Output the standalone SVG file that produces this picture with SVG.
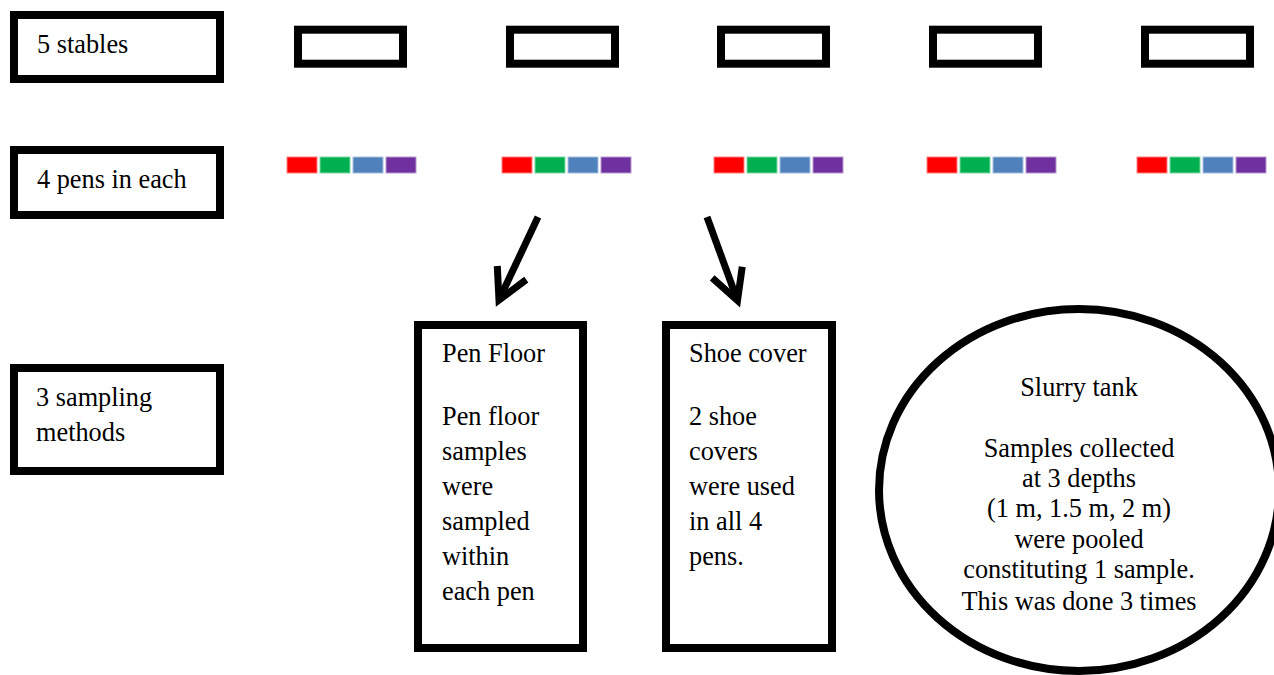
<svg xmlns="http://www.w3.org/2000/svg" width="1274" height="675" viewBox="0 0 1274 675">
<style>
text{font-family:"Liberation Serif","Times New Roman",serif;font-size:26.3px;fill:#000}
.box{fill:#fff;stroke:#000;stroke-width:8}
.st{fill:#fff;stroke:#000;stroke-width:8}
.r{fill:#FF0000;stroke:#FF8080;stroke-width:1}
.g{fill:#00B050;stroke:#80D8A8;stroke-width:1}
.b{fill:#4F81BD;stroke:#A7C0DE;stroke-width:1}
.p{fill:#7030A0;stroke:#B898D0;stroke-width:1}
.mid{text-anchor:middle}
.arrow{fill:none;stroke:#000;stroke-width:7;marker-end:url(#ah)}
</style>
<defs>
<marker id="ah" markerUnits="userSpaceOnUse" markerWidth="50" markerHeight="50" viewBox="-40 -25 50 50" refX="0" refY="0" orient="auto" overflow="visible">
<path d="M-30,-16 L0,0 L-30,16" fill="none" stroke="#000" stroke-width="7" stroke-linejoin="miter"/>
</marker>
<g id="pens">
<rect class="r" x="0" y="0" width="30" height="16"/>
<rect class="g" x="33" y="0" width="30" height="16"/>
<rect class="b" x="66" y="0" width="30" height="16"/>
<rect class="p" x="99" y="0" width="30" height="16"/>
</g>
</defs>
<rect width="1274" height="675" fill="#fff"/>

<g id="label-stables">
<rect class="box" x="14" y="15" width="206" height="64"/>
<text x="37" y="53">5 stables</text>
</g>
<g id="label-pens">
<rect class="box" x="14" y="150" width="206" height="65"/>
<text x="37" y="188">4 pens in each</text>
</g>
<g id="label-methods">
<rect class="box" x="14" y="368" width="206" height="103"/>
<text x="36" y="406">3 sampling</text>
<text x="36" y="441">methods</text>
</g>

<g id="stable1"><rect class="st" x="298" y="29.7" width="105" height="34"/></g>
<g id="stable2"><rect class="st" x="510" y="29.7" width="105" height="34"/></g>
<g id="stable3"><rect class="st" x="721" y="29.7" width="105" height="34"/></g>
<g id="stable4"><rect class="st" x="933" y="29.7" width="105" height="34"/></g>
<g id="stable5"><rect class="st" x="1145" y="29.7" width="105" height="34"/></g>

<g id="pens1"><use href="#pens" x="287" y="157"/></g>
<g id="pens2"><use href="#pens" x="502" y="157"/></g>
<g id="pens3"><use href="#pens" x="714" y="157"/></g>
<g id="pens4"><use href="#pens" x="927" y="157"/></g>
<g id="pens5"><use href="#pens" x="1137" y="157"/></g>

<g id="connectors">
<path class="arrow" d="M538,217 L499,300"/>
<path class="arrow" d="M707,217 L737.5,300.5"/>
</g>

<g id="pen-floor">
<rect class="box" x="418" y="325" width="165" height="323"/>
<text x="442" y="362">Pen Floor</text>
<text x="442" y="425">Pen floor</text>
<text x="442" y="460">samples</text>
<text x="442" y="495">were</text>
<text x="442" y="530">sampled</text>
<text x="442" y="565">within</text>
<text x="442" y="600">each pen</text>
</g>

<g id="shoe-cover">
<rect class="box" x="666" y="325" width="166" height="323"/>
<text x="689" y="362">Shoe cover</text>
<text x="689" y="425">2 shoe</text>
<text x="689" y="460">covers</text>
<text x="689" y="495">were used</text>
<text x="689" y="530">in all 4</text>
<text x="689" y="565">pens.</text>
</g>

<g id="slurry-tank">
<ellipse class="box" cx="1079" cy="490" rx="200" ry="181"/>
<text class="mid" x="1079" y="396">Slurry tank</text>
<text class="mid" x="1079" y="457">Samples collected</text>
<text class="mid" x="1079" y="487">at 3 depths</text>
<text class="mid" x="1079" y="517">(1 m, 1.5 m, 2 m)</text>
<text class="mid" x="1079" y="548">were pooled</text>
<text class="mid" x="1079" y="578">constituting 1 sample.</text>
<text class="mid" x="1079" y="610">This was done 3 times</text>
</g>
</svg>
